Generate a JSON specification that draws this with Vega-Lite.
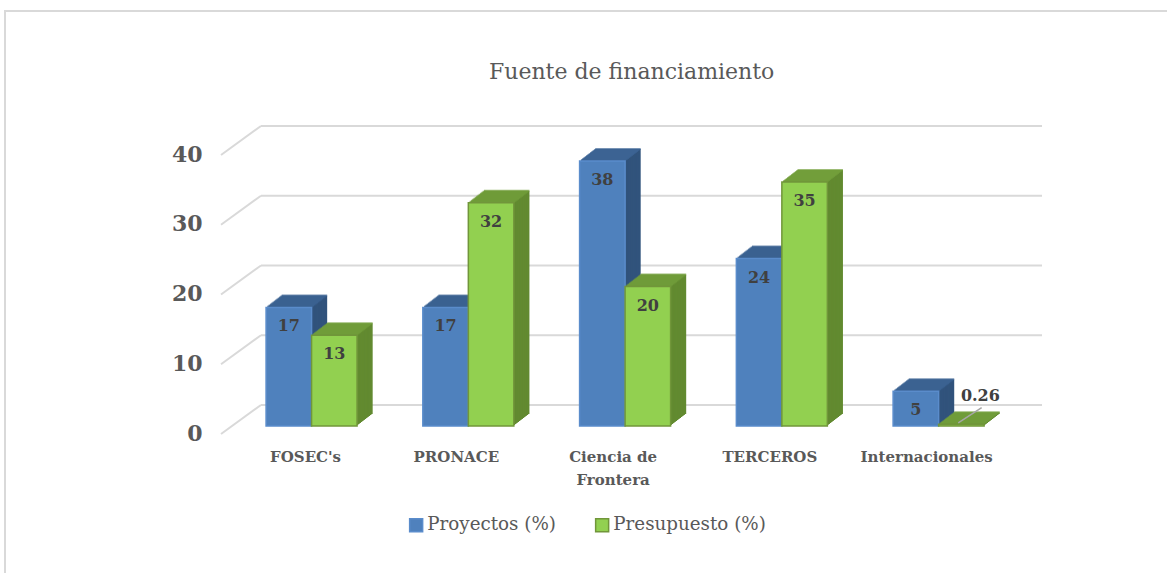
{"$schema":"https://vega.github.io/schema/vega-lite/v6.json","autosize":"none","padding":{"left":5,"top":11,"right":0,"bottom":0},"width":1170,"height":570,"background":"white","config":{"view":{"stroke":"#d9d9d9","strokeWidth":2},"font":"DejaVu Serif"},"title":{"text":"Fuente de financiamiento","font":"DejaVu Serif","fontSize":22,"fontWeight":"normal","color":"#595959","anchor":"start","frame":"group","offset":-73,"dx":484},"datasets":{"bars":[{"fuente":"FOSEC's","serie":"Proyectos (%)","valor":17},{"fuente":"FOSEC's","serie":"Presupuesto (%)","valor":13},{"fuente":"PRONACE","serie":"Proyectos (%)","valor":17},{"fuente":"PRONACE","serie":"Presupuesto (%)","valor":32},{"fuente":"Ciencia de Frontera","serie":"Proyectos (%)","valor":38},{"fuente":"Ciencia de Frontera","serie":"Presupuesto (%)","valor":20},{"fuente":"TERCEROS","serie":"Proyectos (%)","valor":24},{"fuente":"TERCEROS","serie":"Presupuesto (%)","valor":35},{"fuente":"Internacionales","serie":"Proyectos (%)","valor":5},{"fuente":"Internacionales","serie":"Presupuesto (%)","valor":0.26}],"grid":[{"nivel":0,"fondo":4.16,"a":0,"b":4.87,"c":100},{"nivel":10,"fondo":14.16,"a":0,"b":4.87,"c":100},{"nivel":20,"fondo":24.16,"a":0,"b":4.87,"c":100},{"nivel":30,"fondo":34.16,"a":0,"b":4.87,"c":100},{"nivel":40,"fondo":44.16,"a":0,"b":4.87,"c":100}]},"resolve":{"scale":{"x":"independent"}},"layer":[{"layer":[{"data":{"name":"grid"},"mark":{"type":"rule","stroke":"#d9d9d9","strokeWidth":2},"encoding":{"x":{"field":"a","type":"quantitative","axis":null,"scale":{"domain":[0,100],"range":[216,1037]}},"x2":{"field":"b"},"y":{"field":"nivel","type":"quantitative","title":null,"scale":{"domain":[0,40],"range":[423,144]},"axis":{"orient":"left","offset":-197,"domain":false,"ticks":false,"grid":false,"values":[0,10,20,30,40],"labelFontSize":22,"labelFontWeight":"bold","labelColor":"#595959","labelFont":"DejaVu Serif","labelPadding":0,"labelOffset":-1}},"y2":{"field":"fondo"}}},{"data":{"name":"grid"},"mark":{"type":"rule","stroke":"#d9d9d9","strokeWidth":2},"encoding":{"x":{"field":"b","type":"quantitative"},"x2":{"field":"c"},"y":{"field":"fondo","type":"quantitative"}}}]},{"data":{"name":"bars"},"resolve":{"scale":{"xOffset":"independent"}},"encoding":{"x":{"field":"fuente","type":"nominal","sort":null,"title":null,"scale":{"range":[228.2,1012],"paddingInner":0,"paddingOuter":0},"axis":{"orient":"bottom","offset":-132,"domain":false,"ticks":false,"labelAngle":0,"labelFontSize":15,"labelFontWeight":"bold","labelColor":"#595959","labelFont":"DejaVu Serif","labelPadding":0,"labelOffset":{"condition":{"test":"indexof(datum.value,'FOSEC')==0","value":-6},"value":-12},"labelBaseline":"top","labelLineHeight":23,"labelExpr":"datum.label=='Ciencia de Frontera'?['Ciencia de','Frontera']:datum.label"}},"y":{"field":"valor","type":"quantitative","title":null}},"layer":[{"mark":{"type":"bar","yOffset":-20},"encoding":{"xOffset":{"field":"serie","type":"nominal","sort":null,"scale":{"domain":["Proyectos (%)","Presupuesto (%)"],"range":[48.475,139.475]}},"color":{"condition":{"test":"datum.serie=='Proyectos (%)'","value":"#31537c"},"value":"#628a30"}}},{"mark":{"type":"tick","yOffset":-20,"thickness":2,"size":45.5},"encoding":{"xOffset":{"field":"serie","type":"nominal","sort":null,"scale":{"domain":["Proyectos (%)","Presupuesto (%)"],"range":[48.475,139.475]}},"color":{"condition":{"test":"datum.serie=='Proyectos (%)'","value":"#3d6595"},"value":"#73a03c"}}},{"mark":{"type":"bar","yOffset":-19},"encoding":{"xOffset":{"field":"serie","type":"nominal","sort":null,"scale":{"domain":["Proyectos (%)","Presupuesto (%)"],"range":[47.175,138.175]}},"color":{"condition":{"test":"datum.serie=='Proyectos (%)'","value":"#31537c"},"value":"#628a30"}}},{"mark":{"type":"tick","yOffset":-19,"thickness":2,"size":45.5},"encoding":{"xOffset":{"field":"serie","type":"nominal","sort":null,"scale":{"domain":["Proyectos (%)","Presupuesto (%)"],"range":[47.175,138.175]}},"color":{"condition":{"test":"datum.serie=='Proyectos (%)'","value":"#3d6595"},"value":"#73a03c"}}},{"mark":{"type":"bar","yOffset":-18},"encoding":{"xOffset":{"field":"serie","type":"nominal","sort":null,"scale":{"domain":["Proyectos (%)","Presupuesto (%)"],"range":[45.875,136.875]}},"color":{"condition":{"test":"datum.serie=='Proyectos (%)'","value":"#31537c"},"value":"#628a30"}}},{"mark":{"type":"tick","yOffset":-18,"thickness":2,"size":45.5},"encoding":{"xOffset":{"field":"serie","type":"nominal","sort":null,"scale":{"domain":["Proyectos (%)","Presupuesto (%)"],"range":[45.875,136.875]}},"color":{"condition":{"test":"datum.serie=='Proyectos (%)'","value":"#3d6595"},"value":"#73a03c"}}},{"mark":{"type":"bar","yOffset":-17},"encoding":{"xOffset":{"field":"serie","type":"nominal","sort":null,"scale":{"domain":["Proyectos (%)","Presupuesto (%)"],"range":[44.575,135.575]}},"color":{"condition":{"test":"datum.serie=='Proyectos (%)'","value":"#31537c"},"value":"#628a30"}}},{"mark":{"type":"tick","yOffset":-17,"thickness":2,"size":45.5},"encoding":{"xOffset":{"field":"serie","type":"nominal","sort":null,"scale":{"domain":["Proyectos (%)","Presupuesto (%)"],"range":[44.575,135.575]}},"color":{"condition":{"test":"datum.serie=='Proyectos (%)'","value":"#3d6595"},"value":"#73a03c"}}},{"mark":{"type":"bar","yOffset":-16},"encoding":{"xOffset":{"field":"serie","type":"nominal","sort":null,"scale":{"domain":["Proyectos (%)","Presupuesto (%)"],"range":[43.275,134.275]}},"color":{"condition":{"test":"datum.serie=='Proyectos (%)'","value":"#31537c"},"value":"#628a30"}}},{"mark":{"type":"tick","yOffset":-16,"thickness":2,"size":45.5},"encoding":{"xOffset":{"field":"serie","type":"nominal","sort":null,"scale":{"domain":["Proyectos (%)","Presupuesto (%)"],"range":[43.275,134.275]}},"color":{"condition":{"test":"datum.serie=='Proyectos (%)'","value":"#3d6595"},"value":"#73a03c"}}},{"mark":{"type":"bar","yOffset":-15},"encoding":{"xOffset":{"field":"serie","type":"nominal","sort":null,"scale":{"domain":["Proyectos (%)","Presupuesto (%)"],"range":[41.975,132.975]}},"color":{"condition":{"test":"datum.serie=='Proyectos (%)'","value":"#31537c"},"value":"#628a30"}}},{"mark":{"type":"tick","yOffset":-15,"thickness":2,"size":45.5},"encoding":{"xOffset":{"field":"serie","type":"nominal","sort":null,"scale":{"domain":["Proyectos (%)","Presupuesto (%)"],"range":[41.975,132.975]}},"color":{"condition":{"test":"datum.serie=='Proyectos (%)'","value":"#3d6595"},"value":"#73a03c"}}},{"mark":{"type":"bar","yOffset":-14},"encoding":{"xOffset":{"field":"serie","type":"nominal","sort":null,"scale":{"domain":["Proyectos (%)","Presupuesto (%)"],"range":[40.675,131.675]}},"color":{"condition":{"test":"datum.serie=='Proyectos (%)'","value":"#31537c"},"value":"#628a30"}}},{"mark":{"type":"tick","yOffset":-14,"thickness":2,"size":45.5},"encoding":{"xOffset":{"field":"serie","type":"nominal","sort":null,"scale":{"domain":["Proyectos (%)","Presupuesto (%)"],"range":[40.675,131.675]}},"color":{"condition":{"test":"datum.serie=='Proyectos (%)'","value":"#3d6595"},"value":"#73a03c"}}},{"mark":{"type":"bar","yOffset":-13},"encoding":{"xOffset":{"field":"serie","type":"nominal","sort":null,"scale":{"domain":["Proyectos (%)","Presupuesto (%)"],"range":[39.375,130.375]}},"color":{"condition":{"test":"datum.serie=='Proyectos (%)'","value":"#31537c"},"value":"#628a30"}}},{"mark":{"type":"tick","yOffset":-13,"thickness":2,"size":45.5},"encoding":{"xOffset":{"field":"serie","type":"nominal","sort":null,"scale":{"domain":["Proyectos (%)","Presupuesto (%)"],"range":[39.375,130.375]}},"color":{"condition":{"test":"datum.serie=='Proyectos (%)'","value":"#3d6595"},"value":"#73a03c"}}},{"mark":{"type":"bar","yOffset":-12},"encoding":{"xOffset":{"field":"serie","type":"nominal","sort":null,"scale":{"domain":["Proyectos (%)","Presupuesto (%)"],"range":[38.075,129.075]}},"color":{"condition":{"test":"datum.serie=='Proyectos (%)'","value":"#31537c"},"value":"#628a30"}}},{"mark":{"type":"tick","yOffset":-12,"thickness":2,"size":45.5},"encoding":{"xOffset":{"field":"serie","type":"nominal","sort":null,"scale":{"domain":["Proyectos (%)","Presupuesto (%)"],"range":[38.075,129.075]}},"color":{"condition":{"test":"datum.serie=='Proyectos (%)'","value":"#3d6595"},"value":"#73a03c"}}},{"mark":{"type":"bar","yOffset":-11},"encoding":{"xOffset":{"field":"serie","type":"nominal","sort":null,"scale":{"domain":["Proyectos (%)","Presupuesto (%)"],"range":[36.775,127.775]}},"color":{"condition":{"test":"datum.serie=='Proyectos (%)'","value":"#31537c"},"value":"#628a30"}}},{"mark":{"type":"tick","yOffset":-11,"thickness":2,"size":45.5},"encoding":{"xOffset":{"field":"serie","type":"nominal","sort":null,"scale":{"domain":["Proyectos (%)","Presupuesto (%)"],"range":[36.775,127.775]}},"color":{"condition":{"test":"datum.serie=='Proyectos (%)'","value":"#3d6595"},"value":"#73a03c"}}},{"mark":{"type":"bar","yOffset":-10},"encoding":{"xOffset":{"field":"serie","type":"nominal","sort":null,"scale":{"domain":["Proyectos (%)","Presupuesto (%)"],"range":[35.475,126.475]}},"color":{"condition":{"test":"datum.serie=='Proyectos (%)'","value":"#31537c"},"value":"#628a30"}}},{"mark":{"type":"tick","yOffset":-10,"thickness":2,"size":45.5},"encoding":{"xOffset":{"field":"serie","type":"nominal","sort":null,"scale":{"domain":["Proyectos (%)","Presupuesto (%)"],"range":[35.475,126.475]}},"color":{"condition":{"test":"datum.serie=='Proyectos (%)'","value":"#3d6595"},"value":"#73a03c"}}},{"mark":{"type":"bar","yOffset":-9},"encoding":{"xOffset":{"field":"serie","type":"nominal","sort":null,"scale":{"domain":["Proyectos (%)","Presupuesto (%)"],"range":[34.175,125.175]}},"color":{"condition":{"test":"datum.serie=='Proyectos (%)'","value":"#31537c"},"value":"#628a30"}}},{"mark":{"type":"tick","yOffset":-9,"thickness":2,"size":45.5},"encoding":{"xOffset":{"field":"serie","type":"nominal","sort":null,"scale":{"domain":["Proyectos (%)","Presupuesto (%)"],"range":[34.175,125.175]}},"color":{"condition":{"test":"datum.serie=='Proyectos (%)'","value":"#3d6595"},"value":"#73a03c"}}},{"mark":{"type":"bar","yOffset":-8,"strokeWidth":1.5},"encoding":{"xOffset":{"field":"serie","type":"nominal","sort":null,"scale":{"domain":["Proyectos (%)","Presupuesto (%)"],"range":[32.875,123.875]}},"fill":{"field":"serie","type":"nominal","sort":null,"title":null,"scale":{"domain":["Proyectos (%)","Presupuesto (%)"],"range":["#4f81bd","#92d050"]},"legend":{"orient":"none","direction":"horizontal","legendX":402,"legendY":505,"labelFontSize":18.3,"labelFont":"DejaVu Serif","labelColor":"#595959","symbolType":"square","symbolSize":169,"symbolStrokeWidth":1.5,"columnPadding":36,"labelOffset":2}},"stroke":{"field":"serie","type":"nominal","sort":null,"title":null,"scale":{"domain":["Proyectos (%)","Presupuesto (%)"],"range":["#5a8ccb","#71963a"]},"legend":null}}},{"transform":[{"filter":"datum.valor>=1"}],"mark":{"type":"text","dy":11,"fontSize":16,"fontWeight":"bold","font":"DejaVu Serif","color":"#404040"},"encoding":{"xOffset":{"field":"serie","type":"nominal","sort":null,"scale":{"domain":["Proyectos (%)","Presupuesto (%)"],"range":[32.875,123.875]}},"text":{"field":"valor","type":"quantitative"}}},{"transform":[{"filter":"datum.valor<1"}],"mark":{"type":"text","dy":-36,"dx":19,"fontSize":16,"fontWeight":"bold","font":"DejaVu Serif","color":"#404040"},"encoding":{"xOffset":{"field":"serie","type":"nominal","sort":null,"scale":{"domain":["Proyectos (%)","Presupuesto (%)"],"range":[32.875,123.875]}},"text":{"field":"valor","type":"quantitative"}}}]},{"data":{"values":[{"a":89.8,"b":92.65,"n":1.58,"m":3.77}]},"mark":{"type":"rule","stroke":"#a6a6a6","strokeWidth":1.5},"encoding":{"x":{"field":"a","type":"quantitative","axis":null,"scale":{"domain":[0,100],"range":[216,1037]}},"x2":{"field":"b"},"y":{"field":"n","type":"quantitative"},"y2":{"field":"m"}}}]}
